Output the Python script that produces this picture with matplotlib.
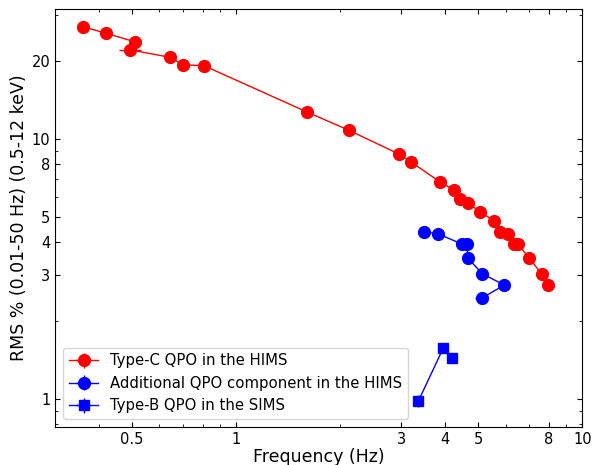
import numpy as np
import matplotlib
matplotlib.use("Agg")
import matplotlib.pyplot as plt
from matplotlib.ticker import FixedLocator, LogLocator, NullFormatter, FuncFormatter

# Type-C QPO in the HIMS
typec_freq = [0.360, 0.420, 0.510, 0.493, 0.643, 0.700, 0.808, 1.598, 2.113,
              2.947, 3.198, 3.886, 4.25, 4.43, 4.67, 5.06, 5.57, 5.78, 6.09,
              6.35, 6.52, 7.00, 7.63, 7.94]
typec_rms = [27.0, 25.5, 23.6, 22.0, 20.6, 19.3, 19.1, 12.7, 10.8,
             8.75, 8.15, 6.82, 6.37, 5.86, 5.69, 5.24, 4.84, 4.39, 4.31,
             3.94, 3.94, 3.49, 3.03, 2.74]
typec_ferr = [0.005, 0.005, 0.005, 0.036, 0.005, 0.005, 0.005, 0.01, 0.01,
              0.02, 0.02, 0.02, 0.02, 0.02, 0.02, 0.02, 0.03, 0.03, 0.03,
              0.03, 0.03, 0.04, 0.04, 0.05]
typec_rerr = [0.3, 0.3, 0.3, 0.3, 0.3, 0.3, 0.3, 0.2, 0.2,
              0.1, 0.1, 0.1, 0.1, 0.1, 0.1, 0.1, 0.1, 0.1, 0.1,
              0.1, 0.1, 0.1, 0.1, 0.1]

# Additional QPO component in the HIMS
add_freq = [3.476, 3.836, 4.49, 4.64, 4.67, 5.14, 5.95, 5.12]
add_rms = [4.39, 4.31, 3.94, 3.94, 3.48, 3.03, 2.74, 2.44]
add_ferr = [0.03, 0.03, 0.03, 0.03, 0.03, 0.03, 0.05, 0.22]
add_rerr = [0.1, 0.1, 0.1, 0.1, 0.1, 0.1, 0.1, 0.1]

# Type-B QPO in the SIMS
typeb_freq = [3.36, 3.97, 4.19]
typeb_rms = [0.982, 1.575, 1.442]
typeb_ferr = [0.02, 0.02, 0.02]
typeb_rerr = [0.05, 0.03, 0.03]

fig = plt.figure(figsize=(5.93, 4.65), dpi=100)
ax = fig.add_axes([0.0933, 0.0824, 0.8887, 0.8976])

ax.errorbar(typec_freq, typec_rms, xerr=typec_ferr, yerr=typec_rerr, fmt='o-',
            color='red', ms=8.5, lw=1, label='Type-C QPO in the HIMS')
ax.errorbar(add_freq, add_rms, xerr=add_ferr, yerr=add_rerr, fmt='o-',
            color='blue', ms=8.5, lw=1, label='Additional QPO component in the HIMS')
ax.errorbar(typeb_freq, typeb_rms, xerr=typeb_ferr, yerr=typeb_rerr, fmt='s-',
            color='blue', ms=7.5, lw=1, label='Type-B QPO in the SIMS')

ax.set_xscale('log')
ax.set_yscale('log')
ax.set_xlim(0.3, 10)
ax.set_ylim(0.782, 31.5)

fmt = FuncFormatter(lambda v, p: f"{v:g}")
ax.xaxis.set_major_locator(FixedLocator([0.5, 1, 3, 4, 5, 8, 10]))
ax.xaxis.set_major_formatter(fmt)
ax.xaxis.set_minor_locator(LogLocator(base=10, subs=np.arange(1, 10), numticks=20))
ax.xaxis.set_minor_formatter(NullFormatter())
ax.yaxis.set_major_locator(FixedLocator([1, 3, 4, 5, 8, 10, 20]))
ax.yaxis.set_major_formatter(fmt)
ax.yaxis.set_minor_locator(LogLocator(base=10, subs=np.arange(1, 10), numticks=20))
ax.yaxis.set_minor_formatter(NullFormatter())

ax.tick_params(which='both', direction='in', top=True, right=True, labelsize=10.5)

ax.set_xlabel('Frequency (Hz)', fontsize=12.5, labelpad=1)
ax.set_ylabel('RMS % (0.01-50 Hz) (0.5-12 keV)', fontsize=12.5, labelpad=3)
ax.legend(loc='lower left', fontsize=10.7)

fig.savefig('out.png', dpi=100)
